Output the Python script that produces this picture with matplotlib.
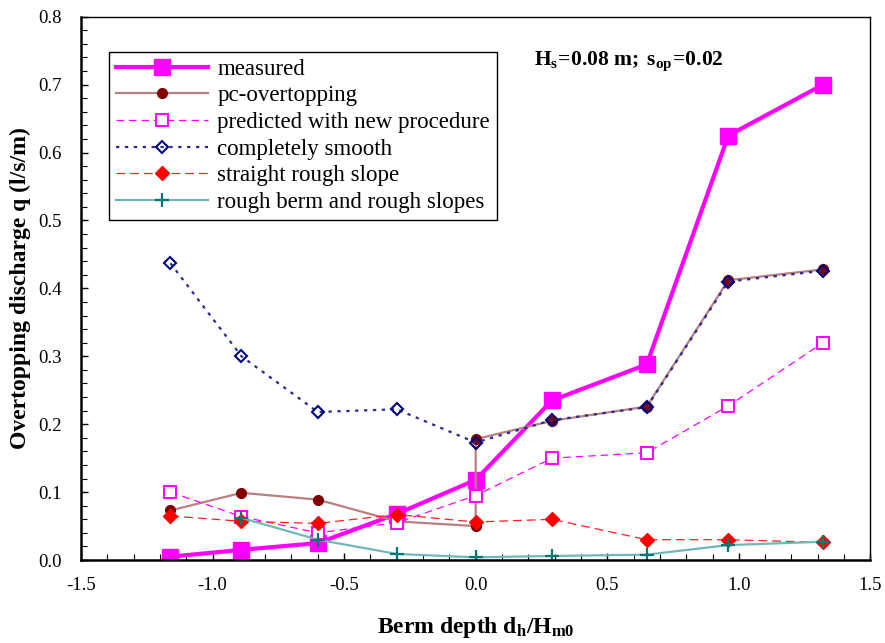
import numpy as np
import matplotlib.pyplot as plt
from matplotlib.ticker import MultipleLocator, FormatStrFormatter

plt.rcParams['font.family'] = ['Liberation Serif', 'DejaVu Serif']
plt.rcParams['mathtext.fontset'] = 'custom'
plt.rcParams['mathtext.rm'] = 'Liberation Serif'
plt.rcParams['mathtext.it'] = 'Liberation Serif:italic'
plt.rcParams['mathtext.bf'] = 'Liberation Serif:bold'

# berm depth positions
x_pts = [-1.16, -0.89, -0.60, -0.30, 0.00, 0.29, 0.65, 0.96, 1.32]

measured = [0.005, 0.015, 0.025, 0.068, 0.118, 0.235, 0.288, 0.625, 0.700]

# pc-overtopping has two values at dh/Hm0 = 0
pc_x = [-1.16, -0.89, -0.60, -0.30, 0.00, 0.00, 0.29, 0.65, 0.96, 1.32]
pc_overtopping = [0.073, 0.099, 0.089, 0.057, 0.050, 0.178, 0.205, 0.226, 0.412, 0.428]

predicted = [0.100, 0.064, 0.040, 0.055, 0.095, 0.150, 0.158, 0.227, 0.320]
smooth = [0.437, 0.300, 0.218, 0.222, 0.173, 0.206, 0.225, 0.410, 0.426]
straight_rough = [0.065, 0.057, 0.054, 0.067, 0.056, 0.060, 0.030, 0.030, 0.026]

berm_x = [-0.89, -0.60, -0.30, 0.00, 0.29, 0.65, 0.96, 1.32]
rough_berm = [0.062, 0.030, 0.009, 0.004, 0.006, 0.008, 0.022, 0.027]

fig = plt.figure(figsize=(8.85, 6.43), dpi=100)
ax = fig.add_axes([0.0915, 0.129, 0.892, 0.845])

ax.plot(x_pts, measured, color='#ff00ff', lw=3, marker='s', ms=11,
        label='measured')
ax.plot(pc_x, pc_overtopping, color='#b88080', lw=1.6, marker='o', ms=7,
        mfc='#800000', mec='#800000', label='pc-overtopping')
ax.plot(x_pts, predicted, color='#ff00ff', lw=0.9, ls=(0, (6, 4)), marker='s',
        ms=8, mfc='white', mec='#ff00ff', mew=1.4,
        label='predicted with new procedure')
ax.plot(x_pts, smooth, color='#2a2a90', lw=1.6, ls=(0, (1.5, 2.5)), marker='D',
        ms=6.5, mfc='none', mec='#000080', mew=1.5, label='completely smooth')
ax.plot(x_pts, straight_rough, color='#ff2020', lw=0.9, ls=(0, (7, 4)),
        marker='D', ms=7, mfc='#ff0000', mec='#ff0000',
        label='straight rough slope')
ax.plot(berm_x, rough_berm, color='#70b8b8', lw=1.6, marker='+', ms=10,
        mec='#007878', mew=1.6, label='rough berm and rough slopes')

ax.set_xlim(-1.5, 1.5)
ax.set_ylim(0, 0.8)
ax.xaxis.set_major_locator(MultipleLocator(0.5))
ax.xaxis.set_minor_locator(MultipleLocator(0.1))
ax.yaxis.set_major_locator(MultipleLocator(0.1))
ax.yaxis.set_minor_locator(MultipleLocator(0.02))
ax.xaxis.set_major_formatter(FormatStrFormatter('%.1f'))
ax.yaxis.set_major_formatter(FormatStrFormatter('%.1f'))
ax.tick_params(which='both', direction='in', labelsize=13.5, top=False, right=False)
ax.tick_params(which='major', length=5, width=1)
ax.tick_params(which='minor', length=4, width=0.8)
ax.tick_params(axis='x', pad=12)
ax.tick_params(axis='y', pad=14)

for s in ['left', 'bottom']:
    ax.spines[s].set_linewidth(1.8)
for s in ['top', 'right']:
    ax.spines[s].set_linewidth(1.0)

ax.set_xlabel(r'Berm depth d$_\mathregular{h}$/H$_\mathregular{m0}$',
              fontsize=17, fontweight='bold', labelpad=15)
ax.set_ylabel('Overtopping discharge q (l/s/m)', fontsize=17,
              fontweight='bold', labelpad=5)

ax.text(0.22, 0.734, r'$\mathbf{H_s\!=\!0.08\ m;\ s_{op}\!=\!0.02}$',
        fontsize=15.5, va='center', ha='left')

leg = ax.legend(loc='upper left', bbox_to_anchor=(0.036, 0.935),
                fontsize=16.5, handlelength=4.0, labelspacing=0.24,
                borderpad=0.3, handletextpad=0.4, fancybox=False,
                framealpha=1, edgecolor='black', borderaxespad=0)
leg.get_frame().set_linewidth(1.0)

fig.savefig('out.png', dpi=100)
